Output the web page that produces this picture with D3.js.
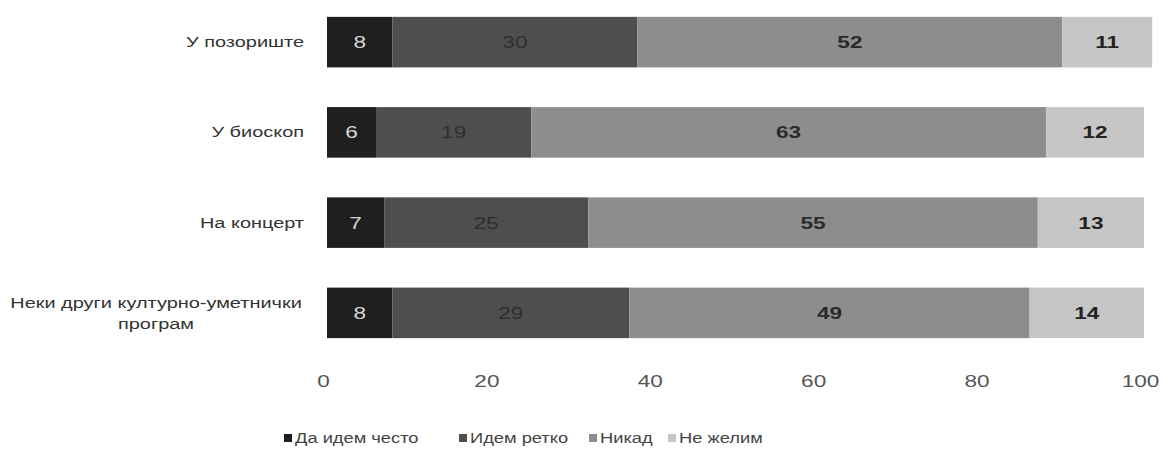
<!DOCTYPE html>
<html><head><meta charset="utf-8">
<script src="https://cdn.jsdelivr.net/npm/d3@7"></script>
<style>body{margin:0;background:#fff}svg{display:block}</style>
</head><body>
<svg id="c" width="1166" height="457"></svg>
<script>
const categories = ["У позориште", "У биоскоп", "На концерт", "Неки други културно-уметнички програм"];
const seriesNames = ["Да идем често", "Идем ретко", "Никад", "Не желим"];
const often = [8, 6, 7, 8];
const rarely = [30, 19, 25, 29];
const never = [52, 63, 55, 49];
const dontWant = [11, 12, 13, 14];
const xTicks = [0, 20, 40, 60, 80, 100];

const seriesValues = [often, rarely, never, dontWant];
const colors = ["#1f1f1f", "#4e4e4e", "#8d8d8d", "#c6c6c6"];
const labelColors = ["#d8d8d8", "#2e2e2e", "#2a2a2a", "#222"];
const labelWeights = ["normal", "normal", "bold", "bold"];
const FONT = "Liberation Sans, Arial, sans-serif";
const SX = 1.33;

const svg = d3.select("#c");
const x = d3.scaleLinear().domain([0, 100]).range([327, 1144]);
const y = d3.scaleBand().domain(categories).range([-3, 358]).paddingInner(0.44).paddingOuter(0.22);

const rows = categories.map((c, i) => {
  let acc = 0;
  return seriesValues.map((s, k) => { const v = s[i]; const seg = {cat: c, k, v, x0: acc, x1: acc + v}; acc += v; return seg; });
});

const g = svg.append("g");
rows.forEach(row => {
  row.forEach(seg => {
    g.append("rect")
      .attr("x", x(seg.x0)).attr("y", y(seg.cat))
      .attr("width", x(seg.x1) - x(seg.x0)).attr("height", y.bandwidth())
      .attr("fill", colors[seg.k]);
    const cx = (x(seg.x0) + x(seg.x1)) / 2, cy = y(seg.cat) + y.bandwidth() / 2;
    g.append("text")
      .attr("transform", `translate(${cx},${cy}) scale(${SX},1)`)
      .attr("text-anchor", "middle").attr("dominant-baseline", "central")
      .attr("font-family", FONT).attr("font-size", 17)
      .attr("font-weight", labelWeights[seg.k])
      .attr("fill", labelColors[seg.k]).text(seg.v);
  });
});

// category labels
categories.forEach(c => {
  const cy = y(c) + y.bandwidth() / 2;
  if (c.length > 20) {
    const t = svg.append("text").attr("text-anchor", "middle")
      .attr("transform", `translate(156,${cy}) scale(${SX},1)`)
      .attr("font-family", FONT).attr("font-size", 15).attr("fill", "#333");
    t.append("tspan").attr("x", 0).attr("y", -10).attr("dominant-baseline", "central").text("Неки други културно-уметнички");
    t.append("tspan").attr("x", 0).attr("y", 11).attr("dominant-baseline", "central").text("програм");
  } else {
    svg.append("text").attr("text-anchor", "end")
      .attr("transform", `translate(304,${cy}) scale(${SX},1)`)
      .attr("dominant-baseline", "central")
      .attr("font-family", FONT).attr("font-size", 15).attr("fill", "#333").text(c);
  }
});

// x axis
const axis = d3.axisBottom(x).tickValues(xTicks).tickSize(0).tickPadding(0);
const ax = svg.append("g").attr("transform", "translate(-4,375)").call(axis);
ax.select(".domain").remove();
ax.selectAll("text").attr("font-family", FONT).attr("font-size", 17).attr("fill", "#555")
  .attr("transform", `scale(${SX},1)`);

// legend
const legX = [284, 459, 589, 668];
const leg = svg.append("g");
seriesNames.forEach((n, k) => {
  leg.append("rect").attr("x", legX[k]).attr("y", 434).attr("width", 8).attr("height", 8).attr("fill", colors[k]);
  leg.append("text").attr("transform", `translate(${legX[k] + 11},438) scale(1.22,1)`).attr("dominant-baseline", "central")
    .attr("font-family", FONT).attr("font-size", 15).attr("fill", "#444").text(n);
});
</script>
</body></html>
